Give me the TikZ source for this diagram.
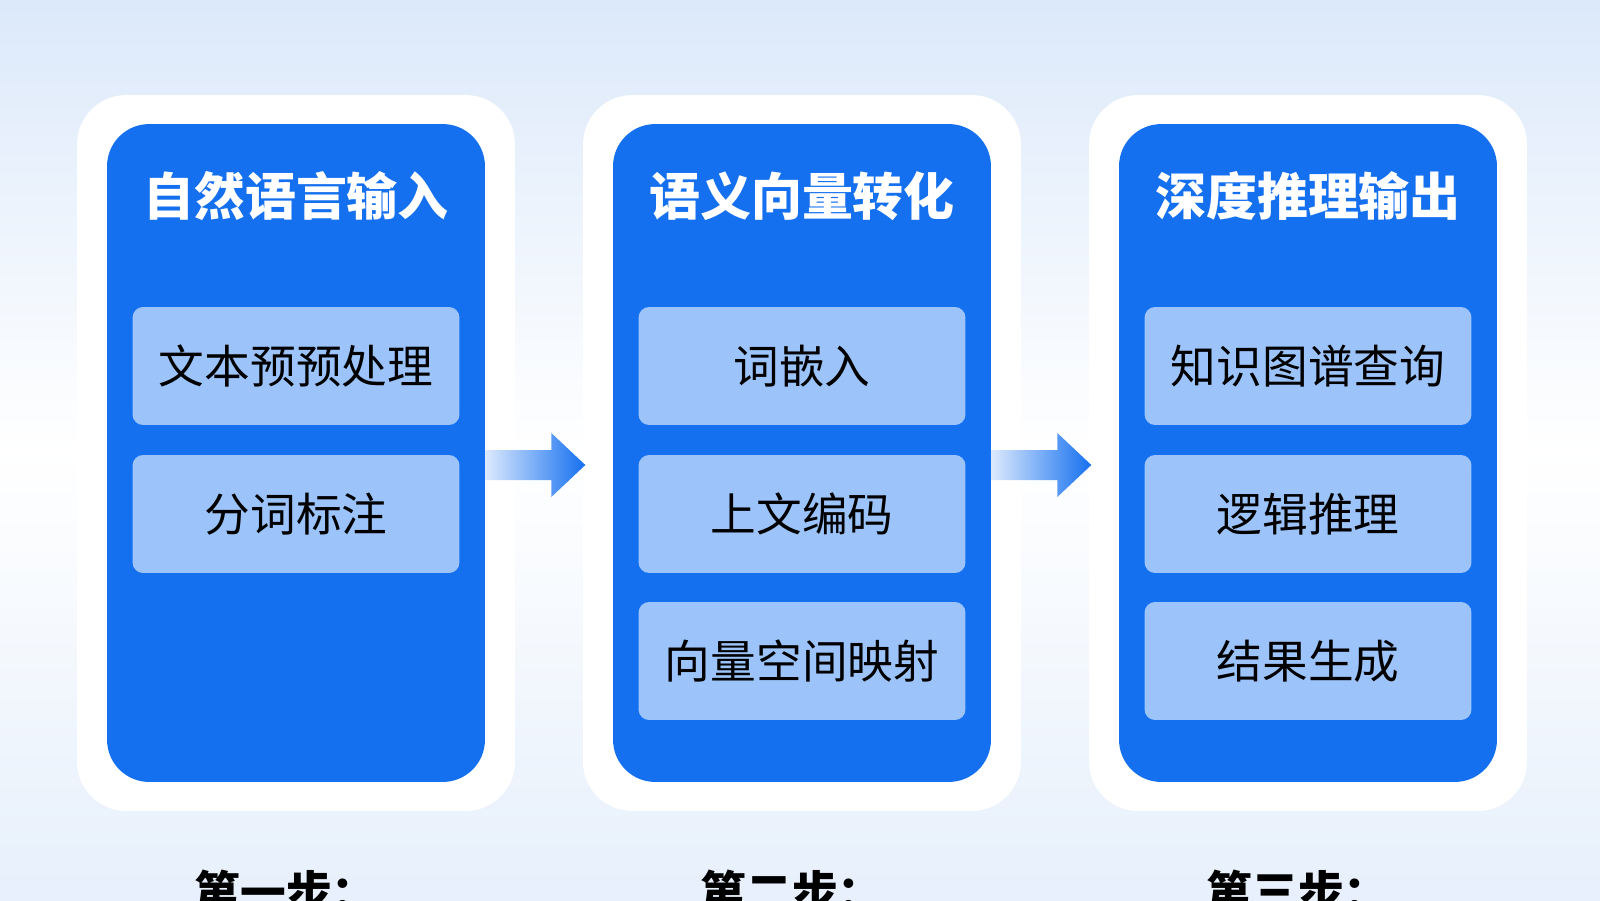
\documentclass[tikz,border=0pt]{standalone}
\usepackage{fontspec}
\setmainfont{Noto Sans CJK SC}
\usepackage{tikz}
\usetikzlibrary{positioning}
\usetikzlibrary{calc}
\usetikzlibrary{arrows.meta}

\definecolor{stepBlue}{HTML}{1570F0}
\definecolor{itemBlue}{HTML}{9CC4FA}
\definecolor{bgBlue}{HTML}{DCE9FA}

\tikzset{
	card/.style={fill=white, rounded corners=28pt, minimum width=8.76cm, minimum height=14.32cm},
	panel/.style={fill=stepBlue, rounded corners=24pt, minimum width=7.56cm, minimum height=13.16cm},
	title/.style={text=white, font=\bfseries\fontsize{29}{32}\selectfont},
	item/.style={fill=itemBlue, rounded corners=6pt, minimum width=6.54cm, minimum height=2.36cm,
		font=\fontsize{26}{30}\selectfont},
	stepLabel/.style={font=\bfseries\fontsize{26}{30}\selectfont}
}

\begin{document}
\begin{tikzpicture}[x=0.02cm, y=-0.02cm]

	\useasboundingbox (0,0) rectangle (1600,900);
	\shade[top color=bgBlue, bottom color=bgBlue!70, middle color=white] (0,0) rectangle (1600,900);

	% columns
	\node[card] (cardA) at (296,453) {};
	\node[card] (cardB) at (802,453) {};
	\node[card] (cardC) at (1308,453) {};

	\node[panel] (panelA) at (296,453) {};
	\node[panel] (panelB) at (802,453) {};
	\node[panel] (panelC) at (1308,453) {};

	\node[title] (titleA) at (296,196) {自然语言输入};
	\node[title] (titleB) at (802,196) {语义向量转化};
	\node[title] (titleC) at (1308,196) {深度推理输出};

	\node[item] (itemA1) at (296,366) {文本预预处理};
	\node[item] (itemA2) at (296,514) {分词标注};

	\node[item] (itemB1) at (802,366) {词嵌入};
	\node[item] (itemB2) at (802,514) {上文编码};
	\node[item] (itemB3) at (802,661) {向量空间映射};

	\node[item] (itemC1) at (1308,366) {知识图谱查询};
	\node[item] (itemC2) at (1308,514) {逻辑推理};
	\node[item] (itemC3) at (1308,661) {结果生成};

	\node[stepLabel] (stepA) at (286,892) {第一步：};
	\node[stepLabel] (stepB) at (792,892) {第二步：};
	\node[stepLabel] (stepC) at (1298,892) {第三步：};

	% arrows
	\coordinate (arrA) at (panelA.east |- 0,465);
	\coordinate (arrB) at (panelB.east |- 0,465);
	\shade[left color=stepBlue!15, right color=stepBlue]
		($(arrA)+(0,-15)$) -- ++(66,0) -- ++(0,-17) -- ++(34,32) -- ++(-34,32) -- ++(0,-17) -- ++(-66,0) -- cycle;
	\shade[left color=stepBlue!15, right color=stepBlue]
		($(arrB)+(0,-15)$) -- ++(66,0) -- ++(0,-17) -- ++(34,32) -- ++(-34,32) -- ++(0,-17) -- ++(-66,0) -- cycle;

\end{tikzpicture}
\end{document}
